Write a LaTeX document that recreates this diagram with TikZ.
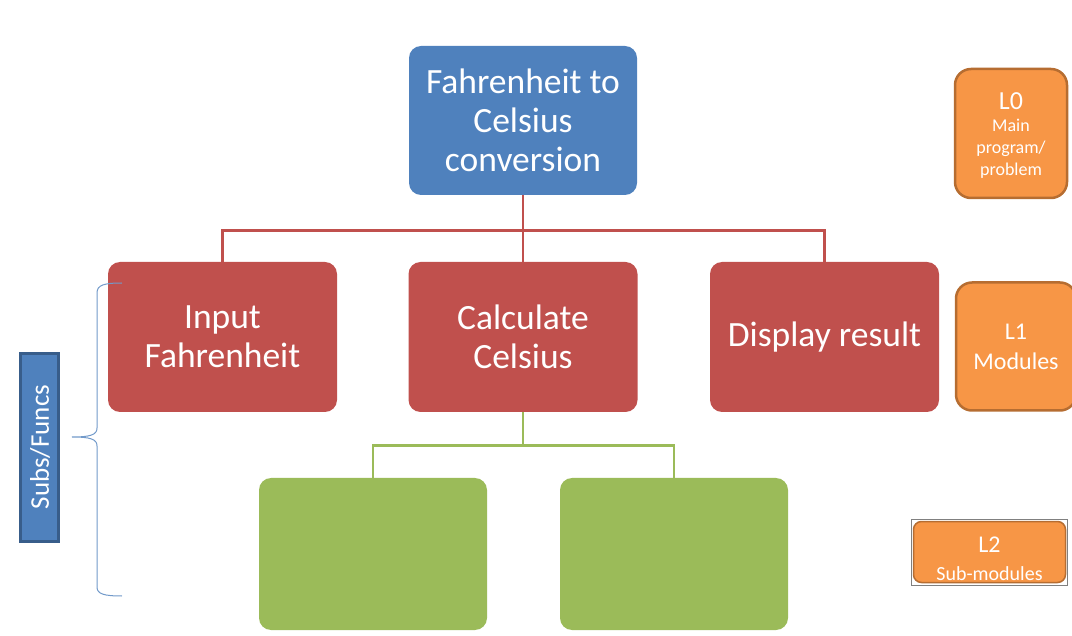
\documentclass[tikz,border=0pt]{standalone}
\usepackage{fontspec}
\setmainfont{Carlito}
\definecolor{cblue}{HTML}{4F81BD}
\definecolor{cbluedark}{HTML}{385D8A}
\definecolor{cred}{HTML}{C0504D}
\definecolor{cgreen}{HTML}{9BBB59}
\definecolor{corange}{HTML}{F79646}
\definecolor{cbrown}{HTML}{B66D31}
\tikzset{
  box/.style={rectangle, rounded corners=12pt, draw=none, text=white, align=center,
    minimum width=228pt, inner sep=0pt},
  bigtext/.style={font=\fontsize{35.5}{39}\selectfont},
  topbox/.style={box, bigtext, fill=cblue, minimum height=149pt},
  modbox/.style={box, bigtext, fill=cred, minimum width=229pt, minimum height=150pt},
  subbox/.style={box, fill=cgreen, minimum height=152pt},
  lvlbox/.style={rectangle, rounded corners=16pt, fill=corange, draw=cbrown, line width=2.5pt,
    text=white, align=center, inner sep=0pt},
  redline/.style={draw=cred, line width=2.8pt},
  greenline/.style={draw=cgreen, line width=2.8pt},
}
\begin{document}
\begin{tikzpicture}[x=1pt,y=-1pt]
\useasboundingbox (0,0) rectangle (1072,636);
% main hierarchy
\node[topbox] (top) at (523,120.5) {Fahrenheit to\\Celsius\\conversion};
\node[modbox] (inp) at (222.5,337) {Input\\Fahrenheit};
\node[modbox] (calc) at (523,337) {Calculate\\Celsius};
\node[modbox] (disp) at (824.5,337) {Display result};
\node[subbox] (s1) at (373,554) {};
\node[subbox] (s2) at (674,554) {};
\draw[redline] (top.south) -- ++(0,35) -| (inp.north);
\draw[redline] (top.south) -- (calc.north);
\draw[redline] (top.south) -- ++(0,35) -| (disp.north);
\draw[greenline] (calc.south) -- ++(0,33) -| (s1.north);
\draw[greenline] (calc.south) -- ++(0,33) -| (s2.north);
% level labels
\node[lvlbox, minimum width=112pt, minimum height=129pt] (l0) at (1011,133.5) {};
\node[text=white, align=center, font=\fontsize{18}{22}\selectfont] (l0t) at (1011,136)
  {{\fontsize{26}{26}\selectfont L0}\\Main\\program/\\problem};
\node[lvlbox, minimum width=120pt, minimum height=128pt] (l1) at (1016,346.5) {};
\node[text=white, align=center, font=\fontsize{24}{30}\selectfont] (l1t) at (1016,347)
  {L1\\Modules};
\node[rectangle, draw=gray, line width=1pt, minimum width=156pt, minimum height=66pt, inner sep=0pt] (l2frame) at (989,552) {};
\node[lvlbox, rounded corners=8pt, line width=1.5pt, minimum width=152pt, minimum height=61pt] (l2) at (989.5,552) {};
\node[text=white, align=center, font=\fontsize{20}{28}\selectfont] (l2t) at (989.5,559)
  {{\fontsize{24}{25}\selectfont L2}\\Sub-modules};
% Subs/Funcs bracket
\node[rectangle, fill=cblue, draw=cbluedark, line width=2.5pt, minimum width=38pt, minimum height=188pt, inner sep=0pt] (sf) at (39.5,447.5) {};
\node[text=white, rotate=90, font=\fontsize{27}{30}\selectfont] (sft) at (40,447) {Subs/Funcs};
\coordinate (bt) at (122,283);
\coordinate (bb) at (122,596);
\coordinate (btip) at (72,437);
\draw[cblue!80, line width=1pt] (bt) .. controls (104,283) and (97,285) .. (97,293) -- (97,428)
  .. controls (97,435) and (90,437) .. (btip)
  .. controls (90,437) and (97,439) .. (97,446) -- (97,587)
  .. controls (97,594) and (104,596) .. (bb);
\end{tikzpicture}
\end{document}
